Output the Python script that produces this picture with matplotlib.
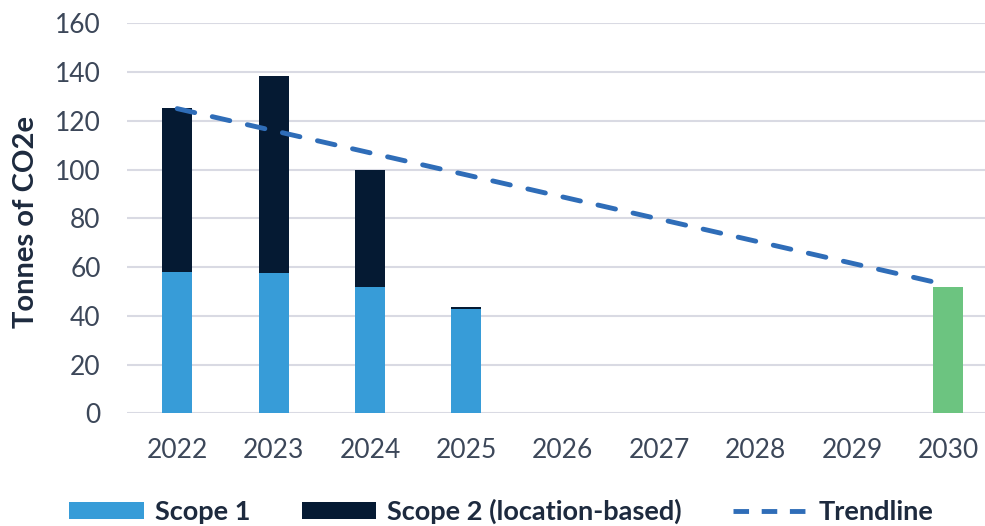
import matplotlib
matplotlib.use("Agg")
import matplotlib.pyplot as plt
from matplotlib.lines import Line2D
from matplotlib.patches import Patch

plt.rcParams['font.family'] = ['Lato', 'DejaVu Sans']

# Emissions by year (tonnes CO2e)
years = ['2022', '2023', '2024', '2025', '2026', '2027', '2028', '2029', '2030']
scope1 = [58.0, 57.4, 51.9, 42.9, 0, 0, 0, 0, 0]
scope2 = [67.1, 81.0, 47.9, 0.5, 0, 0, 0, 0, 0]
target = [0, 0, 0, 0, 0, 0, 0, 0, 52.0]

# Linear reduction path from the 2022 baseline to the 2030 target
trend_years = ['2022', '2030']
trend_values = [125.0, 52.5]

c_scope1 = '#379cd8'
c_scope2 = '#051a33'
c_target = '#6cc480'
c_trend = '#2f6db8'
c_tick = '#3c4759'
c_label = '#1d2a3e'
c_grid = '#d9dae3'

fig = plt.figure(figsize=(9.85, 5.26), dpi=100)
ax = fig.add_axes([0.129, 0.2143, 0.871, 0.7414])

x = list(range(len(years)))
w = 0.31
ax.bar(x, scope1, width=w, color=c_scope1, zorder=3)
ax.bar(x, scope2, width=w, bottom=scope1, color=c_scope2, zorder=3)
ax.bar(x, target, width=w, color=c_target, zorder=3)

tx = [years.index(y) for y in trend_years]
ax.plot(tx, trend_values, color=c_trend, lw=3.5, dashes=(3.7, 3.7),
        dash_capstyle='round', zorder=4)

ax.set_xlim(-0.52, 8.38)
ax.set_ylim(0, 160)
ax.set_yticks(range(0, 161, 20))
ax.set_xticks(x)
ax.set_xticklabels(years)
ax.yaxis.grid(True, color=c_grid, lw=1.5, zorder=0)
ax.set_axisbelow(True)
for s in ax.spines.values():
    s.set_visible(False)
ax.tick_params(axis='both', length=0, labelsize=19, labelcolor=c_tick)
ax.tick_params(axis='x', pad=18)
ax.tick_params(axis='y', pad=19)
ax.set_ylabel('Tonnes of CO2e', fontsize=21, fontweight='bold', color=c_label,
              labelpad=9)
ax.yaxis.set_label_coords(-0.103, 0.49)

handles = [
    Patch(facecolor=c_scope1, label='Scope 1'),
    Patch(facecolor=c_scope2, label='Scope 2 (location-based)'),
    Line2D([0], [0], color=c_trend, lw=3.5, dashes=(3.2, 2.6), label='Trendline'),
]
leg = fig.legend(handles=handles, loc='center', bbox_to_anchor=(0.509, 0.027),
                 ncol=3, frameon=False, fontsize=19.5, handlelength=2.75,
                 handleheight=0.62, handletextpad=0.4, columnspacing=1.9)
for t in leg.get_texts():
    t.set_fontweight('bold')
    t.set_color(c_label)

fig.savefig('out.png', dpi=100)
